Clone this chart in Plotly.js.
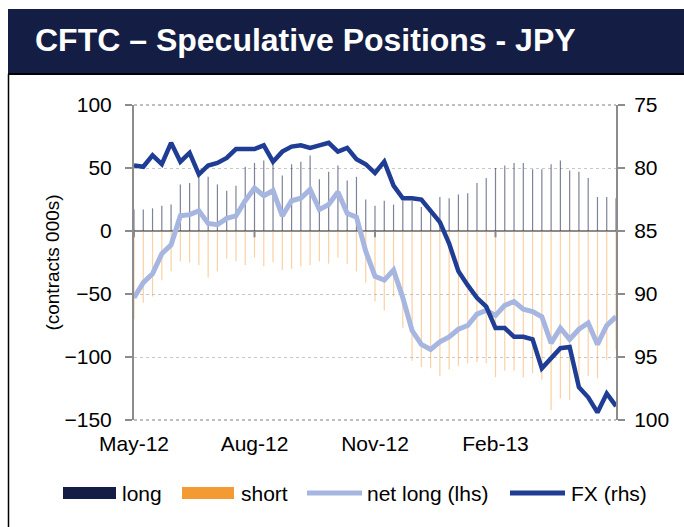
<!DOCTYPE html>
<html>
<head>
<meta charset="utf-8">
<script src="https://cdn.plot.ly/plotly-3.0.1.min.js"></script>
<style>
html,body{margin:0;padding:0;background:#fff;}
#chart{width:684px;height:527px;}
</style>
</head>
<body>
<div id="chart"></div>
<script>
// ---- data (weekly CFTC reports) ----
const weeks = [
 '2012-05-08','2012-05-15','2012-05-22','2012-05-29','2012-06-05','2012-06-12','2012-06-19','2012-06-26',
 '2012-07-03','2012-07-10','2012-07-17','2012-07-24','2012-07-31','2012-08-07','2012-08-14','2012-08-21',
 '2012-08-28','2012-09-04','2012-09-11','2012-09-18','2012-09-25','2012-10-02','2012-10-09','2012-10-16',
 '2012-10-23','2012-10-30','2012-11-06','2012-11-13','2012-11-20','2012-11-27','2012-12-04','2012-12-11',
 '2012-12-18','2012-12-25','2013-01-01','2013-01-08','2013-01-15','2013-01-22','2013-01-29','2013-02-05',
 '2013-02-12','2013-02-19','2013-02-26','2013-03-05','2013-03-12','2013-03-19','2013-03-26','2013-04-02',
 '2013-04-09','2013-04-16','2013-04-23','2013-04-30','2013-05-07'
];
const longPos = [17,17,18,20,21,37,38,43,43,37,32,36,51,54,56,55,44,53,55,60,41,47,52,40,43,25,20,
  24,21,24,24,19,15,27,26,29,30,38,42,50,52,54,54,49,49,53,56,48,47,42,27,27,26];
const shortPos = [-70,-57,-52,-39,-32,-24,-25,-27,-37,-32,-22,-24,-27,-21,-28,-25,-31,-30,-28,-27,-24,-26,-21,-26,-32,-41,-56,
  -63,-52,-77,-103,-108,-109,-115,-110,-107,-105,-104,-105,-116,-111,-111,-116,-113,-118,-142,-133,-134,-125,-115,-117,-102,-94];
const netLong = [-53,-41,-34,-18,-11,12,13,16,6,5,10,12,24,34,28,32,12,24,26,33,17,21,31,14,11,-16,-36,
  -39,-31,-53,-79,-90,-94,-88,-84,-78,-75,-66,-63,-67,-59,-56,-62,-64,-68,-89,-77,-86,-78,-73,-90,-75,-68];
const fx = [79.8,79.9,79.0,79.7,78.0,79.5,78.8,80.5,79.8,79.6,79.2,78.5,78.5,78.5,78.2,79.5,78.7,78.3,78.2,78.4,78.2,78.0,78.7,78.4,79.3,79.7,80.4,
  79.5,81.4,82.4,82.4,82.5,83.4,84.3,86.0,88.2,89.3,90.3,91.0,92.7,92.7,93.4,93.4,93.6,95.9,95.1,94.3,94.2,97.4,98.2,99.4,97.9,98.9];
const xTickVals = ['2012-05-08','2012-08-07','2012-11-06','2013-02-05'];
const xTickText = ['May-12','Aug-12','Nov-12','Feb-13'];
const leftTicks = [-150,-100,-50,0,50,100];
const rightTicks = [75,80,85,90,95,100];
const legendNames = ['long','short','net long (lhs)','FX (rhs)'];
const seriesColors = {long:'#141E44', short:'#F39A32', net:'#A6B6E0', fx:'#1F3D94'};

// ---- layout helpers (pixel -> paper) ----
const M = {l:134, r:68, t:105, b:107};
const W = 684, H = 527;
const PW = W - M.l - M.r, PH = H - M.t - M.b;
const px = v => (v - M.l) / PW;
const py = v => (H - M.b - v) / PH;
const FONT = 'Liberation Sans, Arial, sans-serif';

const traces = [
  {type:'bar', x:weeks, y:longPos, name:legendNames[0], width:0.13,
   marker:{color:seriesColors.long, opacity:0.55, line:{width:0}}, showlegend:false},
  {type:'bar', x:weeks, y:shortPos, name:legendNames[1], width:0.13,
   marker:{color:seriesColors.short, opacity:0.45, line:{width:0}}, showlegend:false},
  {type:'scatter', mode:'lines', x:weeks, y:netLong, name:legendNames[2],
   line:{color:seriesColors.net, width:5}, showlegend:false},
  {type:'scatter', mode:'lines', x:weeks, y:fx, name:legendNames[3], yaxis:'y2',
   line:{color:seriesColors.fx, width:4.5}, showlegend:false}
];

const shapes = [
  // title banner
  {type:'rect', xref:'paper', yref:'paper', x0:px(8), x1:px(690), y0:py(73), y1:py(9),
   fillcolor:'#141E44', line:{width:0}, layer:'above'},
  {type:'line', xref:'paper', yref:'paper', x0:px(8), x1:px(690), y0:py(74), y1:py(74),
   line:{color:'#000', width:2}},
  {type:'line', xref:'paper', yref:'paper', x0:px(8.5), x1:px(8.5), y0:py(74), y1:py(530),
   line:{color:'#000', width:1.5}},
  // top / bottom dotted frame
  {type:'line', xref:'paper', yref:'paper', x0:0, x1:1, y0:1, y1:1, line:{color:'#7F7F7F', width:1, dash:'dot'}},
  {type:'line', xref:'paper', yref:'paper', x0:0, x1:1, y0:0, y1:0, line:{color:'#7F7F7F', width:1, dash:'dot'}}
];
// small category ticks on the zero line
xTickVals.forEach(d => shapes.push({type:'line', xref:'x', yref:'y', x0:d, x1:d, y0:0, y1:-5,
  line:{color:'#8C8C8C', width:2}}));

// custom legend
const LY = 493;
shapes.push({type:'rect', xref:'paper', yref:'paper', x0:px(63), x1:px(116), y0:py(LY+6), y1:py(LY-6),
  fillcolor:seriesColors.long, line:{width:0}});
shapes.push({type:'rect', xref:'paper', yref:'paper', x0:px(182), x1:px(234), y0:py(LY+6), y1:py(LY-6),
  fillcolor:seriesColors.short, line:{width:0}});
shapes.push({type:'line', xref:'paper', yref:'paper', x0:px(307), x1:px(362), y0:py(LY), y1:py(LY),
  line:{color:seriesColors.net, width:5}});
shapes.push({type:'line', xref:'paper', yref:'paper', x0:px(510), x1:px(565), y0:py(LY), y1:py(LY),
  line:{color:seriesColors.fx, width:5}});
const legX = [120, 239, 365, 569];
const annotations = legendNames.map((t,i) => ({text:t, xref:'paper', yref:'paper', x:px(legX[i]), y:py(LY),
  xanchor:'left', yanchor:'middle', showarrow:false, font:{family:FONT, size:21, color:'#000'}}));

const layout = {
  width:W, height:H, margin:M, paper_bgcolor:'#fff', plot_bgcolor:'#fff',
  font:{family:FONT, size:21, color:'#000'},
  title:{text:'CFTC – Speculative Positions - JPY', xref:'container', yref:'container',
    x:35/W, xanchor:'left', y:1-40/H, yanchor:'middle',
    font:{family:FONT, size:32, color:'#fff', weight:'bold'}},
  barmode:'relative', showlegend:false,
  xaxis:{type:'category', range:[0, weeks.length-1], tickvals:xTickVals, ticktext:xTickText,
    ticks:'', showgrid:false, zeroline:false, showline:false, ticklabelstandoff:9,
    tickfont:{family:FONT, size:21, color:'#000'}},
  yaxis:{range:[-150,100], tickvals:leftTicks, showgrid:true, gridcolor:'#C8C8C8', griddash:'dot', gridwidth:1,
    zeroline:true, zerolinecolor:'#8C8C8C', zerolinewidth:2,
    showline:true, linecolor:'#8C8C8C', linewidth:2, ticks:'outside', ticklen:7, tickwidth:1.5, tickcolor:'#8C8C8C',
    ticklabelstandoff:9, tickfont:{family:FONT, size:21, color:'#000'},
    title:{text:'(contracts 000s)', standoff:0, font:{family:FONT, size:19, color:'#000'}}},
  yaxis2:{overlaying:'y', side:'right', range:[100,75], tickvals:rightTicks, showgrid:false, zeroline:false,
    showline:true, linecolor:'#8C8C8C', linewidth:2, ticks:'outside', ticklen:7, tickwidth:1.5, tickcolor:'#8C8C8C',
    ticklabelstandoff:5, tickfont:{family:FONT, size:21, color:'#000'}},
  shapes:shapes, annotations:annotations
};

Plotly.newPlot('chart', traces, layout, {staticPlot:true, displayModeBar:false});
</script>
</body>
</html>
